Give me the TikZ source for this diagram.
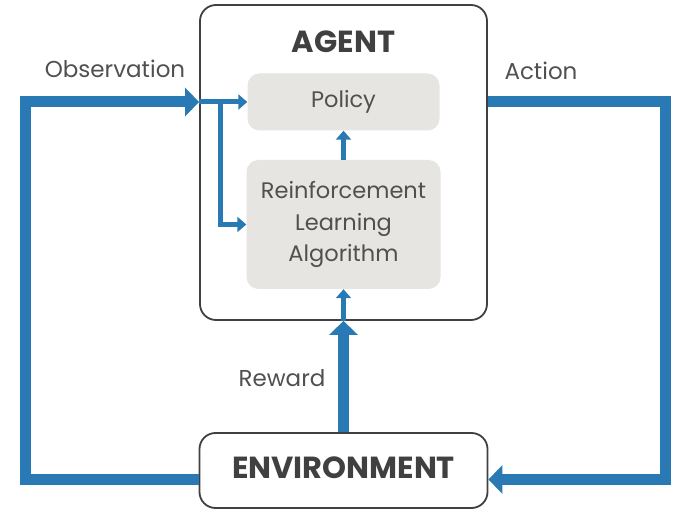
\documentclass[tikz,border=0pt]{standalone}
\usepackage{fontspec}
\setmainfont{Poppins}
\usetikzlibrary{arrows.meta,positioning}
\definecolor{flowblue}{RGB}{41,122,180}
\definecolor{boxgray}{RGB}{230,229,225}
\definecolor{edgegray}{RGB}{64,64,64}
\definecolor{textgray}{RGB}{80,80,80}
\tikzset{
  block/.style={draw=edgegray, line width=1.8pt, rounded corners=16pt, fill=white},
  inner/.style={fill=boxgray, rounded corners=12pt, text=textgray, align=center, font=\fontsize{22.5}{31.5}\selectfont},
  bigflow/.style={draw=flowblue, line width=11pt, -{Triangle[width=28pt,length=14pt]}},
  smallflow/.style={draw=flowblue, line width=5pt, -{Triangle[width=15pt,length=9pt]}},
  tag/.style={text=textgray, font=\fontsize{23}{27}\selectfont},
  title/.style={text=edgegray, font=\bfseries\fontsize{30.5}{36}\selectfont}
}
\begin{document}
\begin{tikzpicture}[x=1pt,y=-1pt]
\useasboundingbox (0,0) rectangle (673,510);
% boxes
\node[block, minimum width=287pt, minimum height=315pt] (agent) at (343.5,162.5) {};
\node[title] (agentname) at (343.5,42) {AGENT};
\node[inner, minimum width=192pt, minimum height=57pt] (policy) at (343.5,102) {Policy};
\node[inner, minimum width=194pt, minimum height=129pt] (rl) at (343.5,224.5) {Reinforcement\\Learning\\Algorithm};
\node[block, minimum width=288pt, minimum height=75pt] (env) at (343.5,470.5) {};
\node[title] (envname) at (343.5,468) {ENVIRONMENT};
% outer loop
\draw[bigflow] ([yshift=-9pt]env.west) -| (25,102) -- (agent.west |- policy);
\draw[bigflow] (agent.east |- policy) -| (665,479.5) -- (env.east |- 0,479.5);
\draw[bigflow] (env.north) -- (agent.south);
% inside the agent
\draw[smallflow] (agent.west |- policy) -- (policy.west);
\draw[smallflow] (220,102) |- (rl.west);
\draw[smallflow] (agent.south) -- (rl.south);
\draw[smallflow] (rl.north) -- (policy.south);
% labels
\node[tag] (obslabel) at (115,69) {Observation};
\node[tag] (actlabel) at (541,71) {Action};
\node[tag] (rewlabel) at (282,378) {Reward};
\end{tikzpicture}
\end{document}
